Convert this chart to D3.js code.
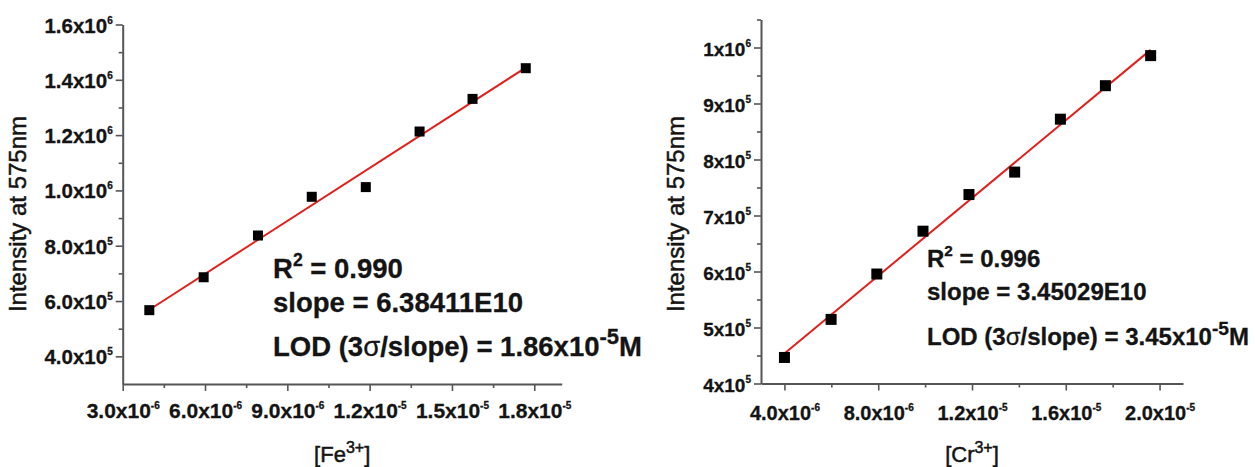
<!DOCTYPE html>
<html>
<head>
<meta charset="utf-8">
<script src="https://cdn.jsdelivr.net/npm/d3@7"></script>
<style>
  body { margin: 0; background: #fff; }
</style>
</head>
<body>
<div id="chart"></div>
<script>
// values
const feConc = [3.97e-6, 5.95e-6, 7.93e-6, 9.89e-6, 11.86e-6, 13.82e-6, 15.75e-6, 17.69e-6];
const feInt = [5.67e5, 6.86e5, 8.37e5, 9.77e5, 10.12e5, 12.13e5, 13.31e5, 14.42e5];
const crConc = [4.0e-6, 5.99e-6, 7.94e-6, 9.91e-6, 11.87e-6, 13.82e-6, 15.77e-6, 17.69e-6, 19.62e-6];
const crInt = [4.465e5, 5.145e5, 5.955e5, 6.72e5, 7.374e5, 7.775e5, 8.72e5, 9.318e5, 9.855e5];

// tick values
const feXTicks = [3e-6, 6e-6, 9e-6, 1.2e-5, 1.5e-5, 1.8e-5];
const feXMinor = [4.5e-6, 7.5e-6, 1.05e-5, 1.35e-5, 1.65e-5];
const feYTicks = [4e5, 6e5, 8e5, 1e6, 1.2e6, 1.4e6, 1.6e6];
const feYMinor = [5e5, 7e5, 9e5, 1.1e6, 1.3e6, 1.5e6];
const crXTicks = [4e-6, 8e-6, 1.2e-5, 1.6e-5, 2e-5];
const crXMinor = [6e-6, 1e-5, 1.4e-5, 1.8e-5];
const crYTicks = [4e5, 5e5, 6e5, 7e5, 8e5, 9e5, 1e6];
const crYMinor = [4.5e5, 5.5e5, 6.5e5, 7.5e5, 8.5e5, 9.5e5, 1.05e6];

// annotation texts
const feNotes = { r2: "0.990", slope: "6.38411E10", lod: "1.86" };
const crNotes = { r2: "0.996", slope: "3.45029E10", lod: "3.45" };

const width = 1255, height = 467;
const font = "'Liberation Sans', Arial, sans-serif";
const axisColor = "#555";
const ink = "#141414";

const svg = d3.select("#chart")
    .append("svg")
    .attr("width", width)
    .attr("height", height)
    .style("font-family", font);

// "1.6x10^6" style label, built with tspans
function sciLabel(text, v, digits, size, supSize, supDy) {
    const e = Math.floor(Math.log10(v) + 1e-9);
    const m = (v / Math.pow(10, e)).toFixed(digits);
    text.text(null)
        .attr("font-size", size)
        .attr("font-weight", "bold")
        .attr("fill", ink)
        .attr("stroke", ink)
        .attr("stroke-width", 0.3)
        .attr("font-family", font);
    text.append("tspan").text(m + "x10");
    text.append("tspan").attr("font-size", supSize).attr("dy", supDy).text(e);
}

function drawPanel(o) {
    const x = d3.scaleLinear().domain(o.xDom).range(o.xRange);
    const y = d3.scaleLinear().domain(o.yDom).range(o.yRange);
    const g = svg.append("g");
    const y0 = o.yRange[0], x0 = o.xRange[0];

    // minor ticks
    g.append("g")
        .attr("transform", `translate(0,${y0})`)
        .call(d3.axisBottom(x).tickValues(o.xMinor).tickSize(4).tickSizeOuter(0).tickFormat(""))
        .call(a => a.select(".domain").remove());
    g.append("g")
        .attr("transform", `translate(${x0},0)`)
        .call(d3.axisLeft(y).tickValues(o.yMinor).tickSize(4).tickSizeOuter(0).tickFormat(""))
        .call(a => a.select(".domain").remove());

    // major ticks + labels
    const xa = g.append("g")
        .attr("transform", `translate(0,${y0})`)
        .call(d3.axisBottom(x).tickValues(o.xTicks).tickSize(7).tickSizeOuter(0).tickFormat(""));
    xa.selectAll(".tick text").each(function (d) {
        const t = d3.select(this).attr("y", o.xLabDy).attr("dy", null).attr("text-anchor", "middle");
        sciLabel(t, d, 1, o.xFont, 10, -9);
    });
    const ya = g.append("g")
        .attr("transform", `translate(${x0},0)`)
        .call(d3.axisLeft(y).tickValues(o.yTicks).tickSize(7).tickSizeOuter(0).tickFormat(""));
    ya.selectAll(".tick text").each(function (d) {
        const t = d3.select(this).attr("x", -10).attr("dy", null).attr("y", 7.5).attr("text-anchor", "end");
        sciLabel(t, d, o.yDigits, o.yFont, 10, -9);
    });

    g.selectAll(".domain").attr("stroke", axisColor).attr("stroke-width", 2);
    g.selectAll(".tick line").attr("stroke", axisColor).attr("stroke-width", 1.6);

    // least squares fit
    const mx = d3.mean(o.xs), my = d3.mean(o.ys);
    const b = d3.sum(o.xs, (v, i) => (v - mx) * (o.ys[i] - my)) / d3.sum(o.xs, v => (v - mx) * (v - mx));
    const a0 = my - b * mx;
    const ends = d3.extent(o.xs);
    g.append("path")
        .datum(ends)
        .attr("d", d3.line().x(d => x(d)).y(d => y(a0 + b * d)))
        .attr("stroke", "#e0201c")
        .attr("stroke-width", 2)
        .attr("fill", "none");

    g.selectAll(".pt")
        .data(o.xs)
        .join("rect")
        .attr("class", "pt")
        .attr("x", (d) => x(d) - o.mk / 2)
        .attr("y", (d, i) => y(o.ys[i]) - o.mk / 2)
        .attr("width", o.mk)
        .attr("height", o.mk)
        .attr("fill", "#000");

    // axis titles
    svg.append("text")
        .attr("transform", `translate(${o.yTitleX},214) rotate(-90)`)
        .attr("text-anchor", "middle")
        .attr("font-size", 24)
        .attr("fill", ink)
        .attr("stroke", ink)
        .attr("stroke-width", 0.5)
        .text("Intensity at 575nm");

    const xt = svg.append("text")
        .attr("x", (o.xRange[0] + o.xRange[1]) / 2)
        .attr("y", 462)
        .attr("text-anchor", "middle")
        .attr("font-size", 22)
        .attr("fill", ink)
        .attr("stroke", ink)
        .attr("stroke-width", 0.5);
    xt.append("tspan").text("[" + o.ion);
    xt.append("tspan").attr("font-size", 16).attr("dy", -9).text("3+");
    xt.append("tspan").attr("dy", 9).text("]");

    // annotation
    const n = o.notes, fs = o.noteFont;
    const ann = svg.append("g")
        .attr("font-size", fs)
        .attr("font-weight", "bold")
        .attr("fill", ink)
        .attr("stroke", ink)
        .attr("stroke-width", 0.3);
    const t1 = ann.append("text").attr("x", o.noteX).attr("y", o.noteY[0]);
    t1.append("tspan").text("R");
    t1.append("tspan").attr("font-size", fs * 0.64).attr("dy", -fs * 0.44).text("2");
    t1.append("tspan").attr("dy", fs * 0.44).text(" = " + n.r2);
    ann.append("text").attr("x", o.noteX).attr("y", o.noteY[1]).text("slope = " + n.slope);
    const t3 = ann.append("text").attr("x", o.noteX).attr("y", o.noteY[2]);
    t3.append("tspan").text("LOD (3");
    t3.append("tspan").attr("font-weight", "normal").text("\u03c3");
    t3.append("tspan").text("/slope) = " + n.lod + "x10");
    t3.append("tspan").attr("font-size", fs * 0.8).attr("dy", -fs * 0.42).text("-5");
    t3.append("tspan").attr("dy", fs * 0.42).text("M");
}

drawPanel({
    xs: feConc, ys: feInt,
    xDom: [3e-6, 1.9e-5], xRange: [122.7, 561.7],
    yDom: [3e5, 1.6e6], yRange: [384, 24.5],
    xTicks: feXTicks, xMinor: feXMinor, yTicks: feYTicks, yMinor: feYMinor,
    xFont: 21, yFont: 20.5, yDigits: 1, xLabDy: 34,
    mk: 10, yTitleX: 26, ion: "Fe",
    notes: feNotes, noteFont: 27.5, noteX: 273, noteY: [278, 312, 356]
});

drawPanel({
    xs: crConc, ys: crInt,
    xDom: [3e-6, 2.1e-5], xRange: [761, 1183],
    yDom: [4e5, 1.05e6], yRange: [383.5, 19.5],
    xTicks: crXTicks, xMinor: crXMinor, yTicks: crYTicks, yMinor: crYMinor,
    xFont: 20, yFont: 19, yDigits: 0, xLabDy: 36,
    mk: 11, yTitleX: 684, ion: "Cr",
    notes: crNotes, noteFont: 24, noteX: 927, noteY: [266.5, 300, 345]
});
</script>
</body>
</html>
